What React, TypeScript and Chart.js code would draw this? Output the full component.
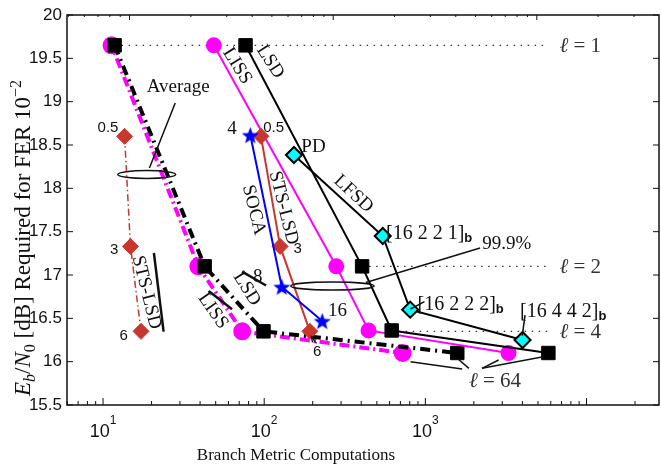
import React, { useEffect, useRef } from 'react';
import { Chart, registerables } from 'chart.js';

Chart.register(...registerables);

// ---------------- data ----------------
const levelY = [19.65, 17.1, 16.35];
const levelName = ['1', '2', '4'];
const levelStartX = [11.8, 405, 618];
const levelEndX = [5800, 5800, 5800];

const lsdX = [76.6, 405, 618, 5800];
const lsdY = [19.65, 17.1, 16.36, 16.1];
const lissX = [48.7, 280, 444, 3282];
const lissY = [19.65, 17.1, 16.36, 16.1];

const lsdAvgX = [11.8, 42.7, 99, 1578];
const lsdAvgY = [19.65, 17.1, 16.35, 16.1];
const lissAvgX = [11.3, 39, 73, 723];
const lissAvgY = [19.65, 17.1, 16.35, 16.1];

const stsX = [95.5, 125.6, 192];
const stsY = [18.6, 17.33, 16.35];
const stsAvgX = [13.6, 14.8, 17.2];
const stsAvgY = [18.6, 17.33, 16.35];

const socaX = [82, 128.5, 229];
const socaY = [18.615, 16.865, 16.47];

const lfsdX = [153, 544, 805, 4010];
const lfsdY = [18.385, 17.45, 16.6, 16.25];

const yTicks = [15.5, 16, 16.5, 17, 17.5, 18, 18.5, 19, 19.5, 20];
const yTickLabels = ['15.5', '16', '16.5', '17', '17.5', '18', '18.5', '19', '19.5', '20'];
const xTickValues = [10, 100, 1000];
const xTickExp = ['1', '2', '3'];

const X_MIN = 5.975;
const X_MAX = 28170;
const TOP_MIN = 0.4929;
const TOP_MAX = 398.1;

// ---------------- styling ----------------
const SERIF = '"Liberation Serif", "Times New Roman", serif';
const SANS = '"Liberation Sans", Arial, sans-serif';
const RED = '#C8372D';
const MAG = '#FF00FF';

type Part = { t: string; f: string; dy?: number };

function rich(ctx: CanvasRenderingContext2D, parts: Part[], x: number, y: number, align: string) {
  let w = 0;
  for (const p of parts) {
    ctx.font = p.f;
    w += ctx.measureText(p.t).width;
  }
  let cx = align === 'center' ? x - w / 2 : align === 'right' ? x - w : x;
  ctx.textAlign = 'left';
  ctx.textBaseline = 'alphabetic';
  for (const p of parts) {
    ctx.font = p.f;
    ctx.fillText(p.t, cx, y + (p.dy || 0));
    cx += ctx.measureText(p.t).width;
  }
}

// annotations (data coordinates)
const notes = [
  { t: 'Average', x: 29.27, y: 19.169, a: 0, f: `19px ${SERIF}` },
  { t: '99.9%', x: 3206, y: 17.354, a: 0, f: `19px ${SERIF}` },
  { t: 'LFSD', x: 358, y: 17.935, a: 43, f: `19px ${SERIF}` },
  { t: 'LSD', x: 109, y: 19.461, a: 57, f: `19px ${SERIF}` },
  { t: 'LISS', x: 67.9, y: 19.412, a: 58, f: `19px ${SERIF}` },
  { t: 'SOCA', x: 86.1, y: 17.75, a: 76, f: `19px ${SERIF}` },
  { t: 'STS-LSD', x: 131.7, y: 17.773, a: 76, f: `19px ${SERIF}` },
  { t: 'STS-LSD', x: 18.59, y: 16.798, a: 76, f: `19px ${SERIF}` },
  { t: 'LSD', x: 77.9, y: 16.839, a: 58, f: `19px ${SERIF}` },
  { t: 'LISS', x: 48.1, y: 16.585, a: 55, f: `19px ${SERIF}` },
  { t: '4', x: 63.2, y: 18.681, a: 0, f: `19px ${SERIF}` },
  { t: '8', x: 91.1, y: 16.977, a: 0, f: `19px ${SERIF}` },
  { t: '16', x: 285.4, y: 16.585, a: 0, f: `19px ${SERIF}` },
  { t: '0.5', x: 114.3, y: 18.693, a: 0, f: `15px ${SANS}` },
  { t: '0.5', x: 10.74, y: 18.702, a: 0, f: `15px ${SANS}` },
  { t: '3', x: 11.72, y: 17.288, a: 0, f: `15px ${SANS}` },
  { t: '6', x: 13.41, y: 16.293, a: 0, f: `15px ${SANS}` },
  { t: '3', x: 161.3, y: 17.297, a: 0, f: `15px ${SANS}` },
  { t: '6', x: 213.3, y: 16.112, a: 0, f: `15px ${SANS}` },
];

const leftNotes = [{ t: 'PD', x: 170, y: 18.477 }];

const leaders = [
  { p: [28.05, 18.985, 19.4, 18.235], w: 1.5 },
  { p: [427.5, 16.913, 2185, 17.312], w: 1.5 },
  { p: [809, 16.0, 1693, 15.915], w: 1.5 },
  { p: [1577, 16.039, 1862, 15.923], w: 1.5 },
  { p: [2247, 15.923, 2849, 16.019], w: 1.5 },
  { p: [2247, 15.923, 5395, 16.057], w: 1.5 },
  { p: [809, 16.608, 987.4, 16.692], w: 1.5 },
  { p: [4155, 16.538, 3994, 16.3], w: 1.5 },
  { p: [20.68, 17.254, 23.76, 16.346], w: 2.5 },
  { p: [72.9, 17.038, 102.7, 16.879], w: 2.5 },
  { p: [45.24, 16.815, 63.2, 16.605], w: 2.5 },
];
const arrows = [{ p: [211.2, 16.212, 195.9, 16.29] }];
const ellipses = [
  { x: 18.67, y: 18.16, rx: 29, ry: 4 },
  { x: 265, y: 16.873, rx: 41.7, ry: 4 },
];
const vecLabels = [
  { t: '[16 2 2 1]', x: 570, y: 17.421 },
  { t: '[16 2 2 2]', x: 894, y: 16.596 },
  { t: '[16 4 4 2]', x: 3871, y: 16.519 },
];
const ellLabelX = 6800;
const ell64 = { x: 2704, y: 15.788 };

const decor = {
  id: 'decor',
  afterDatasetsDraw(chart: any) {
    const { ctx, chartArea: ca, scales } = chart;
    const xs = scales.x;
    const ys = scales.y;
    const xt = scales.x2;
    const px = (v: number) => xs.getPixelForValue(v);
    const py = (v: number) => ys.getPixelForValue(v);
    const line = (x1: number, y1: number, x2: number, y2: number) => {
      ctx.beginPath();
      ctx.moveTo(x1, y1);
      ctx.lineTo(x2, y2);
      ctx.stroke();
    };
    ctx.save();
    ctx.fillStyle = '#111';
    ctx.strokeStyle = '#111';

    // axes box
    ctx.lineWidth = 1.5;
    ctx.strokeRect(ca.left, ca.top, ca.right - ca.left, ca.bottom - ca.top);

    // y ticks + labels
    ctx.lineWidth = 1;
    yTicks.forEach((t, i) => {
      const y = py(t);
      line(ca.left, y, ca.left + 6, y);
      line(ca.right - 6, y, ca.right, y);
      ctx.font = `17px ${SANS}`;
      ctx.textAlign = 'right';
      ctx.textBaseline = 'middle';
      ctx.fillText(yTickLabels[i], ca.left - 5, y);
    });

    // x ticks bottom
    for (let e = 0; e <= 4; e++) {
      for (let m = 1; m <= 9; m++) {
        const v = m * Math.pow(10, e);
        if (v < X_MIN || v > X_MAX) continue;
        const x = px(v);
        line(x, ca.bottom, x, ca.bottom - (m === 1 ? 7 : 4));
      }
    }
    // x ticks top
    for (let e = -1; e <= 3; e++) {
      for (let m = 1; m <= 9; m++) {
        const v = m * Math.pow(10, e);
        if (v < TOP_MIN || v > TOP_MAX) continue;
        const x = xt.getPixelForValue(v);
        line(x, ca.top, x, ca.top + (m === 1 ? 5 : 2));
      }
    }
    // x tick labels
    xTickValues.forEach((v, i) => {
      rich(
        ctx,
        [
          { t: '10', f: `18px ${SANS}` },
          { t: xTickExp[i], f: `12px ${SANS}`, dy: -13 },
        ],
        px(v),
        437,
        'center'
      );
    });

    // axis titles
    ctx.font = `17px ${SERIF}`;
    ctx.textAlign = 'center';
    ctx.textBaseline = 'alphabetic';
    ctx.fillText('Branch Metric Computations', 296, 460);

    ctx.save();
    ctx.translate(30, 238);
    ctx.rotate(-Math.PI / 2);
    rich(
      ctx,
      [
        { t: 'E', f: `italic 23px ${SERIF}` },
        { t: 'b', f: `italic 16px ${SERIF}`, dy: 5 },
        { t: '/', f: `23px ${SERIF}` },
        { t: 'N', f: `italic 23px ${SERIF}` },
        { t: '0', f: `16px ${SERIF}`, dy: 5 },
        { t: ' [dB] Required for FER 10', f: `23px ${SERIF}` },
        { t: '\u22122', f: `16px ${SERIF}`, dy: -9 },
      ],
      0,
      0,
      'center'
    );
    ctx.restore();

    // leaders
    for (const l of leaders) {
      ctx.lineWidth = l.w;
      line(px(l.p[0]), py(l.p[1]), px(l.p[2]), py(l.p[3]));
    }
    for (const a of arrows) {
      const x1 = px(a.p[0]);
      const y1 = py(a.p[1]);
      const x2 = px(a.p[2]);
      const y2 = py(a.p[3]);
      ctx.lineWidth = 1.3;
      line(x1, y1, x2, y2);
      const ang = Math.atan2(y2 - y1, x2 - x1);
      ctx.beginPath();
      ctx.moveTo(x2 - 6 * Math.cos(ang - 0.45), y2 - 6 * Math.sin(ang - 0.45));
      ctx.lineTo(x2, y2);
      ctx.lineTo(x2 - 6 * Math.cos(ang + 0.45), y2 - 6 * Math.sin(ang + 0.45));
      ctx.stroke();
    }
    ctx.lineWidth = 1.5;
    for (const e of ellipses) {
      ctx.beginPath();
      ctx.ellipse(px(e.x), py(e.y), e.rx, e.ry, 0, 0, Math.PI * 2);
      ctx.stroke();
    }

    // texts
    for (const n of notes) {
      ctx.save();
      ctx.translate(px(n.x), py(n.y));
      ctx.rotate((n.a * Math.PI) / 180);
      ctx.font = n.f;
      ctx.textAlign = 'center';
      ctx.textBaseline = 'middle';
      ctx.fillText(n.t, 0, 0);
      ctx.restore();
    }
    for (const n of leftNotes) {
      ctx.font = `19px ${SERIF}`;
      ctx.textAlign = 'left';
      ctx.textBaseline = 'middle';
      ctx.fillText(n.t, px(n.x), py(n.y));
    }
    for (const v of vecLabels) {
      rich(
        ctx,
        [
          { t: v.t, f: `20px ${SERIF}` },
          { t: 'b', f: `bold 13px ${SANS}`, dy: 3 },
        ],
        px(v.x),
        py(v.y),
        'left'
      );
    }
    // level labels
    ctx.fillStyle = '#333';
    levelY.forEach((lv, i) => {
      rich(
        ctx,
        [
          { t: '\u2113', f: `italic 21px ${SERIF}` },
          { t: ' = ' + levelName[i], f: `21px ${SERIF}` },
        ],
        px(ellLabelX),
        py(lv) + 7,
        'left'
      );
    });
    rich(
      ctx,
      [
        { t: '\u2113', f: `italic 21px ${SERIF}` },
        { t: ' = 64', f: `21px ${SERIF}` },
      ],
      px(ell64.x),
      py(ell64.y) + 7,
      'center'
    );
    ctx.restore();
  },
};

function makeStar(color: string, size: number) {
  const c = document.createElement('canvas');
  c.width = size;
  c.height = size;
  const g = c.getContext('2d') as CanvasRenderingContext2D;
  const cx = size / 2;
  const cy = size / 2 + 1;
  const R = size / 2 - 0.5;
  const r = R * 0.42;
  g.beginPath();
  for (let i = 0; i < 10; i++) {
    const a = -Math.PI / 2 + (i * Math.PI) / 5;
    const rr = i % 2 ? r : R;
    g.lineTo(cx + rr * Math.cos(a), cy + rr * Math.sin(a));
  }
  g.closePath();
  g.fillStyle = color;
  g.fill();
  return c;
}

const pts = (xs: number[], ys: number[]) => xs.map((x, i) => ({ x, y: ys[i] }));

export default function App() {
  const ref = useRef<HTMLCanvasElement | null>(null);
  useEffect(() => {
    document.body.style.margin = '0';
    document.body.style.background = '#fff';
    const canvas = ref.current;
    if (!canvas) return;
    const star = makeStar('#0000FF', 19);
    const levelSets = levelY.map((lv, i) => ({
      data: [
        { x: levelStartX[i], y: lv },
        { x: levelEndX[i], y: lv },
      ],
      showLine: true,
      borderColor: '#333',
      borderWidth: 1.3,
      borderDash: [1.5, 5.5],
      pointRadius: 0,
    }));
    const chart = new Chart(canvas, {
      type: 'scatter',
      data: {
        datasets: [
          {
            label: 'SOCA',
            data: pts(socaX, socaY),
            showLine: true,
            borderColor: '#0000FF',
            borderWidth: 2,
            pointStyle: star as any,
            pointRadius: 9,
          },
          {
            label: 'STS-LSD',
            data: pts(stsX, stsY),
            showLine: true,
            borderColor: RED,
            borderWidth: 2,
            pointStyle: 'rectRot',
            pointRadius: 8,
            pointBackgroundColor: RED,
            pointBorderColor: RED,
            pointBorderWidth: 1,
          },
          {
            label: 'STS-LSD avg',
            data: pts(stsAvgX, stsAvgY),
            showLine: true,
            borderColor: RED,
            borderWidth: 1.5,
            borderDash: [7, 3, 1.5, 3],
            pointStyle: 'rectRot',
            pointRadius: 8,
            pointBackgroundColor: RED,
            pointBorderColor: RED,
            pointBorderWidth: 1,
          },
          {
            label: 'LFSD',
            data: pts(lfsdX, lfsdY),
            showLine: true,
            borderColor: '#000',
            borderWidth: 2,
            pointStyle: 'rectRot',
            pointRadius: 8,
            pointBackgroundColor: '#00FFFF',
            pointBorderColor: '#000',
            pointBorderWidth: 2,
          },
          {
            label: 'LSD',
            data: pts(lsdX, lsdY),
            showLine: true,
            borderColor: '#000',
            borderWidth: 2,
            pointStyle: 'rect',
            pointRadius: 9.5,
            pointBackgroundColor: '#000',
            pointBorderColor: '#000',
            pointBorderWidth: 1,
          },
          {
            label: 'LISS',
            data: pts(lissX, lissY),
            showLine: true,
            borderColor: MAG,
            borderWidth: 2,
            pointStyle: 'circle',
            pointRadius: 7,
            pointBackgroundColor: MAG,
            pointBorderColor: MAG,
          },
          {
            label: 'LSD avg',
            data: pts(lsdAvgX, lsdAvgY),
            showLine: true,
            borderColor: '#000',
            borderWidth: 4,
            borderDash: [10, 5, 2, 5],
            pointStyle: 'rect',
            pointRadius: 9.5,
            pointBackgroundColor: '#000',
            pointBorderColor: '#000',
            pointBorderWidth: 1,
          },
          {
            label: 'LISS avg',
            data: pts(lissAvgX, lissAvgY),
            showLine: true,
            borderColor: MAG,
            borderWidth: 4,
            borderDash: [10, 4, 2, 4],
            borderDashOffset: 6,
            pointStyle: 'circle',
            pointRadius: 7,
            pointBackgroundColor: MAG,
            pointBorderColor: MAG,
          },
          ...levelSets,
        ] as any,
      },
      options: {
        animation: false,
        responsive: false,
        events: [],
        layout: { padding: { left: 67, top: 15, right: 7, bottom: 64 } },
        plugins: { legend: { display: false }, tooltip: { enabled: false } },
        scales: {
          x: { type: 'logarithmic', min: X_MIN, max: X_MAX, display: false },
          y: { type: 'linear', min: 15.5, max: 20, display: false },
          x2: { type: 'logarithmic', min: TOP_MIN, max: TOP_MAX, display: false, position: 'top' },
        },
      } as any,
      plugins: [decor],
    });
    return () => chart.destroy();
  }, []);
  return (
    <div
      style={{
        position: 'fixed',
        left: 0,
        top: 0,
        width: 661,
        height: 469,
        overflow: 'hidden',
        background: '#fff',
      }}
    >
      <canvas ref={ref} width={670} height={469} style={{ width: 670, height: 469, display: 'block' }} />
    </div>
  );
}
